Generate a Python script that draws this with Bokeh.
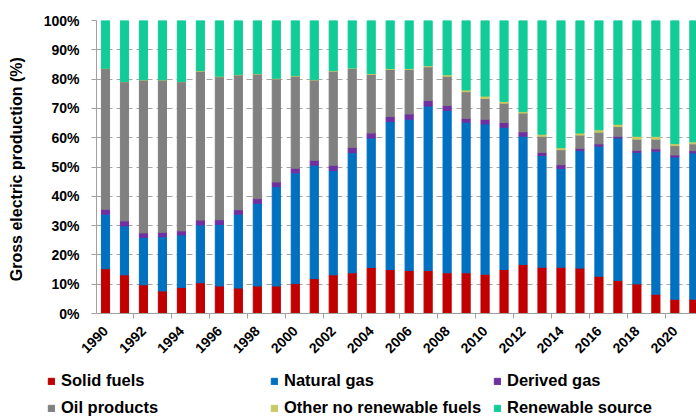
from math import pi
from bokeh.plotting import figure
from bokeh.layouts import column
from bokeh.models import (ColumnDataSource, Range1d, FixedTicker, PrintfTickFormatter,
                          Legend, LegendItem)
from bokeh.embed import file_html
from bokeh.resources import INLINE

years = list(range(1990, 2022))
solid_fuels = [15.3, 13.2, 9.8, 7.7, 8.9, 10.5, 9.4, 8.7, 9.4, 9.4, 10.2, 11.9, 13.2, 13.9,
               15.7, 15.0, 14.7, 14.7, 13.9, 13.9, 13.4, 15.0, 16.7, 15.8, 15.8, 15.5,
               12.7, 11.3, 10.1, 6.6, 4.9, 4.9]
natural_gas = [18.6, 16.7, 16.2, 18.5, 17.9, 19.7, 21.0, 25.2, 28.2, 33.9, 37.8, 38.7, 35.6, 41.0,
               44.2, 50.5, 51.6, 56.1, 55.4, 51.4, 51.3, 48.5, 43.8, 38.1, 33.7, 40.1,
               44.4, 48.6, 44.9, 48.8, 48.5, 49.9]
derived_gas = [1.7, 1.7, 1.5, 1.5, 1.4, 1.7, 1.6, 1.5, 1.6, 1.6, 1.6, 1.7, 1.8, 1.8,
               1.7, 1.7, 1.8, 1.9, 1.7, 1.3, 1.6, 1.7, 1.5, 1.1, 1.3, 0.8,
               0.8, 0.6, 0.7, 0.8, 0.7, 0.8]
oil_products = [48.0, 47.5, 52.2, 52.0, 50.9, 50.8, 48.8, 46.0, 42.5, 35.2, 31.4, 27.4, 32.1, 26.9,
                20.0, 16.1, 15.2, 11.5, 10.0, 9.1, 7.1, 6.6, 6.4, 5.5, 5.1, 4.5,
                4.0, 3.3, 3.8, 3.3, 3.2, 2.3]
other_non_renewable = [0.1, 0.1, 0.1, 0.1, 0.1, 0.2, 0.2, 0.2, 0.2, 0.2, 0.2, 0.2, 0.2, 0.2,
                       0.3, 0.3, 0.3, 0.4, 0.5, 0.6, 0.8, 0.6, 0.5, 0.7, 0.7, 0.7,
                       0.8, 0.8, 1.0, 1.0, 0.7, 0.7]
renewable = [16.3, 20.8, 20.2, 20.2, 20.8, 17.1, 19.0, 18.4, 18.1, 19.7, 18.8, 20.1, 17.1, 16.2,
             18.1, 16.4, 16.4, 15.4, 18.5, 23.7, 25.8, 27.6, 31.1, 38.8, 43.4, 38.4,
             37.3, 35.4, 39.5, 39.5, 42.0, 41.4]

series_names = ["Solid fuels", "Natural gas", "Derived gas", "Oil products",
                "Other no renewable fuels", "Renewable source"]
series_keys = ["solid", "gas", "derived", "oil", "other", "renew"]
colors = ["#C00000", "#0070C0", "#7030A0", "#808080", "#C8C864", "#12CC98"]
label_years = list(range(1990, 2021, 2))
y_ticks = list(range(0, 101, 10))

source = ColumnDataSource(dict(year=years, solid=solid_fuels, gas=natural_gas,
                               derived=derived_gas, oil=oil_products,
                               other=other_non_renewable, renew=renewable))

FONT = "Liberation Sans"

p = figure(width=696, height=360, output_backend="svg", toolbar_location=None,
           x_range=Range1d(1989.526, 2021.14), y_range=Range1d(0, 100),
           min_border_left=96, min_border_right=0, min_border_top=20,
           min_border_bottom=45)
p.outline_line_color = None
p.background_fill_color = "white"

renderers = p.vbar_stack(series_keys, x="year", width=0.43, color=colors, source=source)

# axes
xa = p.xaxis[0]
xa.ticker = FixedTicker(ticks=label_years,
                        minor_ticks=[y - 0.5 for y in range(1990, 2022, 2)])
xa.major_label_orientation = pi / 4
xa.major_tick_out = 0
xa.major_tick_in = 0
xa.major_tick_line_color = None
xa.minor_tick_out = 5
xa.minor_tick_in = 0
xa.minor_tick_line_color = "#A0A0A0"
xa.axis_line_color = "#A0A0A0"
xa.major_label_standoff = 10
xa.major_label_text_font = FONT
xa.major_label_text_font_style = "bold"
xa.major_label_text_font_size = "14px"
xa.major_label_text_color = "black"

ya = p.yaxis[0]
ya.ticker = FixedTicker(ticks=y_ticks, minor_ticks=[])
ya.formatter = PrintfTickFormatter(format="%d%%")
ya.major_tick_out = 5
ya.major_tick_in = 0
ya.major_tick_line_color = "#A0A0A0"
ya.minor_tick_line_color = None
ya.axis_line_color = "#A0A0A0"
ya.major_label_standoff = 12
ya.major_label_text_font = FONT
ya.major_label_text_font_style = "bold"
ya.major_label_text_font_size = "14px"
ya.major_label_text_color = "black"
ya.axis_label = "Gross electric production  (%)"
ya.axis_label_text_font = FONT
ya.axis_label_text_font_style = "bold"
ya.axis_label_text_font_size = "16px"
ya.axis_label_text_color = "black"
ya.axis_label_standoff = 16

p.xgrid.grid_line_color = None
p.ygrid.grid_line_color = "#A6A6A6"
p.ygrid.grid_line_dash = "6 4"
p.ygrid.ticker = FixedTicker(ticks=y_ticks)

# legend in its own strip below the chart
q = figure(width=696, height=57, output_backend="svg", toolbar_location=None,
           x_axis_type=None, y_axis_type=None,
           x_range=Range1d(0, 1), y_range=Range1d(0, 1),
           min_border_left=0, min_border_right=0, min_border_top=0, min_border_bottom=0)
q.outline_line_color = None
q.xgrid.visible = False
q.ygrid.visible = False
if "frame_align" in q.properties():
    q.frame_align = False
    p.frame_align = False
key_src = ColumnDataSource(dict(x=[-5.0], top=[-5.0]))
key_renderers = [q.vbar(x="x", top="top", width=0.1, color=c, source=key_src) for c in colors]

items = [LegendItem(label=n, renderers=[r]) for n, r in zip(series_names, key_renderers)]
legend = Legend(items=items, ncols=3, orientation="horizontal", location=(47, 0),
                glyph_width=8, glyph_height=8, label_standoff=6, label_width=201,
                label_height=19, spacing=8, padding=0, margin=0,
                border_line_color=None, background_fill_alpha=0,
                label_text_font=FONT, label_text_font_style="bold",
                label_text_font_size="16.5px", label_text_color="black")
q.add_layout(legend, "center")

layout = column(p, q, spacing=0)
open("out.html", "w").write(file_html(layout, INLINE))
